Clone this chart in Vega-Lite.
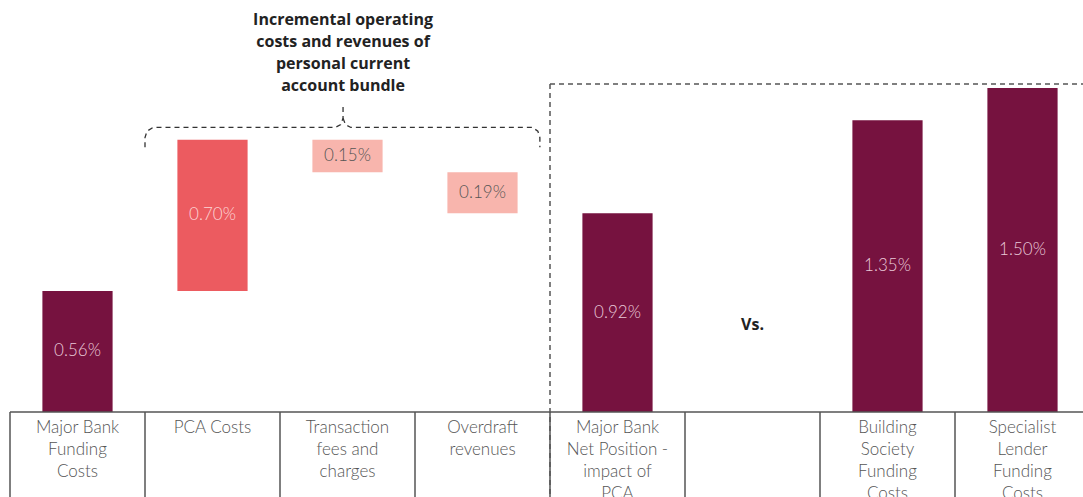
{
  "$schema": "https://vega.github.io/schema/vega-lite/v6.json",
  "width": 1073,
  "height": 497,
  "autosize": {"type": "none"},
  "padding": {"left": 10, "top": 0, "right": 0, "bottom": 0},
  "config": {"view": {"stroke": null}, "font": "Lato"},
  "datasets": {
    "bars": [
      {"cat": "Major Bank Funding Costs", "name": "Major Bank\nFunding\nCosts", "start": 0, "end": 0.56, "label": "0.56%", "kind": "dark"},
      {"cat": "PCA Costs", "name": "PCA Costs", "start": 0.56, "end": 1.26, "label": "0.70%", "kind": "cost"},
      {"cat": "Transaction fees and charges", "name": "Transaction\nfees and\ncharges", "start": 1.26, "end": 1.11, "label": "0.15%", "kind": "revenue"},
      {"cat": "Overdraft revenues", "name": "Overdraft\nrevenues", "start": 1.11, "end": 0.92, "label": "0.19%", "kind": "revenue"},
      {"cat": "Major Bank Net Position - impact of PCA", "name": "Major Bank\nNet Position -\nimpact of\nPCA", "start": 0, "end": 0.92, "label": "0.92%", "kind": "dark"},
      {"cat": "gap", "name": "", "start": null, "end": null, "label": "", "kind": "none"},
      {"cat": "Building Society Funding Costs", "name": "Building\nSociety\nFunding\nCosts", "start": 0, "end": 1.35, "label": "1.35%", "kind": "dark"},
      {"cat": "Specialist Lender Funding Costs", "name": "Specialist\nLender\nFunding\nCosts", "start": 0, "end": 1.5, "label": "1.50%", "kind": "dark"}
    ],
    "separators": [
      {"x": 0, "y": 0, "y2": -0.4}, {"x": 1, "y": 0, "y2": -0.4}, {"x": 2, "y": 0, "y2": -0.4},
      {"x": 3, "y": 0, "y2": -0.4}, {"x": 4, "y": 0, "y2": -0.4}, {"x": 5, "y": 0, "y2": -0.4},
      {"x": 6, "y": 0, "y2": -0.4}, {"x": 7, "y": 0, "y2": -0.4}
    ],
    "baseline": [{"x": 0, "x2": 8, "y": 0}],
    "dashV": [{"x": 4, "y": 1.518, "y2": -0.4}],
    "dashH": [{"x": 4, "x2": 8, "y": 1.518}],
    "bracket": [
      {"part": "L", "o": 1, "x": 1.0, "y": 1.225},
      {"part": "L", "o": 2, "x": 1.0, "y": 1.27},
      {"part": "L", "o": 3, "x": 1.015, "y": 1.3},
      {"part": "L", "o": 4, "x": 1.06, "y": 1.317},
      {"part": "L", "o": 5, "x": 2.41, "y": 1.317},
      {"part": "L", "o": 6, "x": 2.45, "y": 1.33},
      {"part": "L", "o": 7, "x": 2.467, "y": 1.36},
      {"part": "L", "o": 8, "x": 2.467, "y": 1.425},
      {"part": "R", "o": 1, "x": 2.467, "y": 1.36},
      {"part": "R", "o": 2, "x": 2.485, "y": 1.33},
      {"part": "R", "o": 3, "x": 2.525, "y": 1.317},
      {"part": "R", "o": 4, "x": 3.87, "y": 1.317},
      {"part": "R", "o": 5, "x": 3.91, "y": 1.3},
      {"part": "R", "o": 6, "x": 3.925, "y": 1.27},
      {"part": "R", "o": 7, "x": 3.925, "y": 1.225}
    ],
    "notes": [
      {"x": 2.467, "y": 1.8145, "text": "Incremental operating\ncosts and revenues of\npersonal current\naccount bundle"},
      {"x": 5.5, "y": 0.403, "text": "Vs."}
    ]
  },
  "encoding": {
    "y": {"type": "quantitative", "scale": {"domain": [-0.3935, 1.907], "nice": false, "zero": false}, "axis": null}
  },
  "layer": [
    {
      "data": {"name": "bars"},
      "encoding": {
        "x": {
          "field": "cat", "type": "nominal", "sort": null, "axis": null,
          "scale": {
            "domain": ["Major Bank Funding Costs", "PCA Costs", "Transaction fees and charges", "Overdraft revenues", "Major Bank Net Position - impact of PCA", "gap", "Building Society Funding Costs", "Specialist Lender Funding Costs"],
            "range": [0, 1080], "paddingInner": 0.48, "paddingOuter": 0.24
          }
        }
      },
      "layer": [
        {
          "mark": {"type": "bar"},
          "encoding": {
            "y": {"field": "start", "type": "quantitative"},
            "y2": {"field": "end"},
            "color": {"field": "kind", "type": "nominal", "legend": null, "scale": {"domain": ["dark", "cost", "revenue", "none"], "range": ["#76123f", "#ec5b60", "#f8b5ad", "#ffffff"]}}
          }
        },
        {
          "transform": [{"filter": "datum.start != null"}, {"calculate": "(datum.start + datum.end) / 2", "as": "mid"}],
          "mark": {"type": "text", "fontSize": 17, "fontWeight": 300, "baseline": "middle", "align": "center"},
          "encoding": {
            "y": {"field": "mid", "type": "quantitative"},
            "text": {"field": "label"},
            "color": {"condition": [{"test": "datum.kind === 'revenue'", "value": "#555555"}, {"test": "datum.kind === 'cost'", "value": "#fcd6d6"}], "value": "#e9c9d8"}
          }
        },
        {
          "mark": {"type": "text", "fontSize": 17, "fontWeight": 300, "baseline": "top", "align": "center", "lineBreak": "\n", "lineHeight": 22, "color": "#555555"},
          "encoding": {
            "y": {"datum": -0.035, "type": "quantitative"},
            "text": {"field": "name"}
          }
        }
      ]
    },
    {
      "encoding": {
        "x": {"type": "quantitative", "axis": null, "scale": {"domain": [0, 8], "range": [0, 1080], "nice": false, "zero": false}}
      },
      "layer": [
        {
          "data": {"name": "separators"},
          "mark": {"type": "rule", "color": "#555555", "strokeWidth": 1.5},
          "encoding": {"x": {"field": "x", "type": "quantitative"}, "y": {"field": "y", "type": "quantitative"}, "y2": {"field": "y2"}}
        },
        {
          "data": {"name": "baseline"},
          "mark": {"type": "rule", "color": "#555555", "strokeWidth": 1.5},
          "encoding": {"x": {"field": "x", "type": "quantitative"}, "x2": {"field": "x2"}, "y": {"field": "y", "type": "quantitative"}}
        },
        {
          "data": {"name": "dashV"},
          "mark": {"type": "rule", "color": "#555555", "strokeWidth": 1.5, "strokeDash": [5, 4]},
          "encoding": {"x": {"field": "x", "type": "quantitative"}, "y": {"field": "y", "type": "quantitative"}, "y2": {"field": "y2"}}
        },
        {
          "data": {"name": "dashH"},
          "mark": {"type": "rule", "color": "#555555", "strokeWidth": 1.5, "strokeDash": [5, 4]},
          "encoding": {"x": {"field": "x", "type": "quantitative"}, "x2": {"field": "x2"}, "y": {"field": "y", "type": "quantitative"}}
        },
        {
          "data": {"name": "bracket"},
          "mark": {"type": "line", "color": "#333333", "strokeWidth": 1.3, "strokeDash": [5, 4]},
          "encoding": {
            "x": {"field": "x", "type": "quantitative"},
            "y": {"field": "y", "type": "quantitative"},
            "detail": {"field": "part"},
            "order": {"field": "o", "type": "quantitative"}
          }
        },
        {
          "data": {"name": "notes"},
          "mark": {"type": "text", "font": "Open Sans", "fontSize": 16, "fontWeight": "bold", "baseline": "middle", "align": "center", "lineBreak": "\n", "lineHeight": 22, "color": "#222222"},
          "encoding": {
            "x": {"field": "x", "type": "quantitative"},
            "y": {"field": "y", "type": "quantitative"},
            "text": {"field": "text"}
          }
        }
      ]
    }
  ],
  "resolve": {"scale": {"x": "independent"}}
}
